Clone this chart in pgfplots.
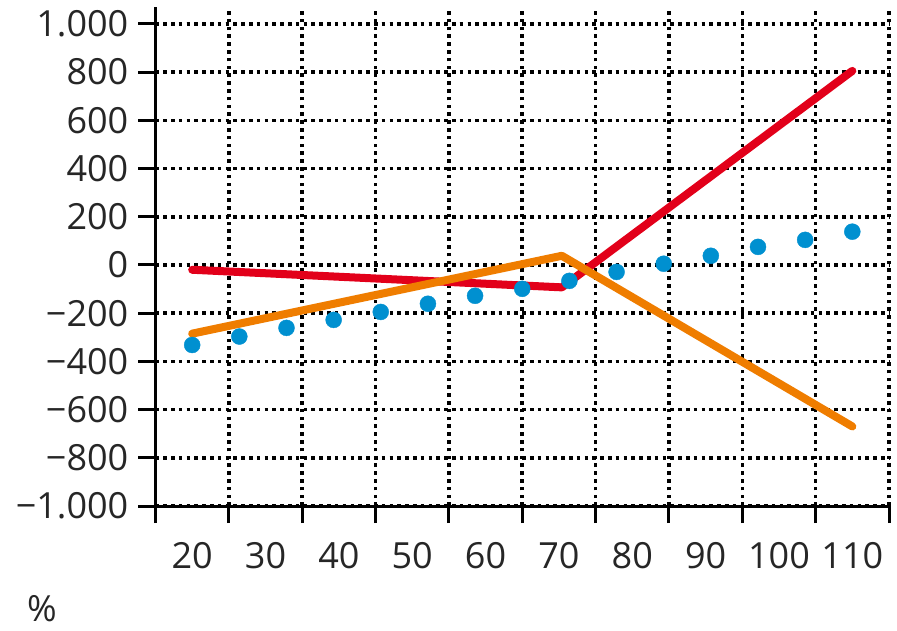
\documentclass[border=0pt]{standalone}
\usepackage{pgfplots}
\pgfplotsset{compat=1.18}
\usepackage{fontspec}
\setmainfont{Open Sans}
\definecolor{cred}{HTML}{E2001A}
\definecolor{corange}{HTML}{EF7D00}
\definecolor{cblue}{HTML}{0090D0}
\begin{document}
\begin{tikzpicture}
\begin{axis}[
  scale only axis, width=733.5pt, height=499pt,
  xmin=15, xmax=115, ymin=-1000, ymax=1070,
  axis x line=bottom, axis y line=left,
  axis line style={-, line width=3pt, black},
  tick align=outside, major tick length=17pt,
  tick style={line width=3pt, black},
  xtick={15,25,...,115}, xticklabels={},
  extra x ticks={20,30,...,110},
  extra x tick labels={20,30,40,50,60,70,80,90,100,110},
  extra x tick style={grid=none, major tick length=0pt},
  ytick={-1000,-800,...,1000},
  yticklabels={−1.000,−800,−600,−400,−200,0,200,400,600,800,1.000},
  extra y ticks={0,1000}, extra y tick labels={},
  extra y tick style={grid style={solid, line width=3pt, black}},
  grid=major,
  major grid style={black, line width=3.6pt, dash pattern=on 3.6pt off 4.2pt},
  tick label style={font=\fontsize{36}{40}\selectfont, inner sep=0pt, text=black!85},
  xticklabel style={anchor=north, yshift=-36pt},
  yticklabel style={anchor=east, xshift=-10pt},
  clip=false,
]
\addplot[only marks, mark=*, mark size=8pt, color=cblue, mark options={draw=none, fill=cblue}] coordinates {
  (20,-332) (26.43,-297) (32.86,-261) (39.29,-228) (45.71,-195)
  (52.14,-161) (58.57,-128) (65,-99) (71.43,-66) (77.86,-29)
  (84.29,5) (90.71,38) (97.14,75) (103.57,104) (110,138)
};
\addplot[color=cred, line width=8pt, line cap=round, line join=round] coordinates {
  (20,-20) (70.4,-93) (110,805)
};
\addplot[color=corange, line width=8pt, line cap=round, line join=round] coordinates {
  (20,-285) (70.4,38) (110,-670)
};
\end{axis}
\node[font=\fontsize{36}{40}\selectfont, text=black!85, inner sep=0pt] at ([xshift=-113.5pt, yshift=-103pt]current axis.south west) {\%};
\path ([xshift=-155.5pt, yshift=-124pt]current axis.south west) rectangle ++(897pt,630pt);
\end{tikzpicture}
\end{document}
